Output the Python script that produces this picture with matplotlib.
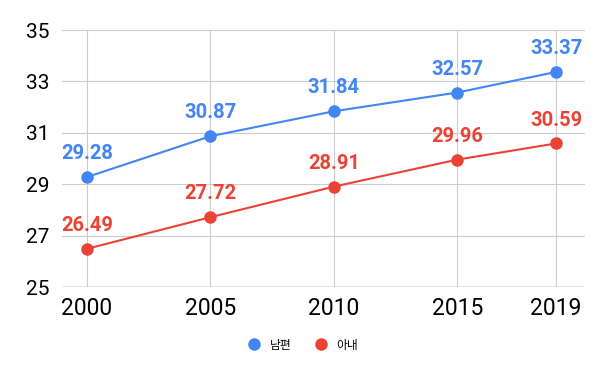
import matplotlib.pyplot as plt
from matplotlib.lines import Line2D

plt.rcParams['font.family'] = ['Roboto', 'Noto Sans CJK KR', 'DejaVu Sans']

years = [2000, 2005, 2010, 2015, 2019]
husband = [29.28, 30.87, 31.84, 32.57, 33.37]
wife = [26.49, 27.72, 28.91, 29.96, 30.59]
yticks = [25, 27, 29, 31, 33, 35]
names = ["남편", "아내"]

blue = "#4285F4"
red = "#EA4335"

fig = plt.figure(figsize=(6, 3.71), dpi=100)
ax = fig.add_axes([0.103, 0.226, 0.872, 0.693])

for vals, c in [(husband, blue), (wife, red)]:
	ax.plot(years, vals, color=c, lw=1.5, marker="o", ms=8, zorder=3)
	for x, v in zip(years, vals):
		ax.annotate(f"{v:.2f}", (x, v), xytext=(0, 10), textcoords="offset points",
			ha="center", va="bottom", color=c, fontsize=14.5, fontweight="bold")

ax.set_xlim(1998.99, 2020.17)
ax.set_ylim(25, 35)
ax.set_xticks(years)
ax.set_yticks(yticks)
ax.tick_params(axis="x", labelsize=16.5, length=0, pad=7)
ax.tick_params(axis="y", labelsize=15, length=0, pad=9)
ax.grid(True, color="#cccccc", lw=0.8)
ax.set_axisbelow(True)
for s in ax.spines.values():
	s.set_visible(False)
ax.axhline(25, color="#999999", lw=1, zorder=1)

handles = [Line2D([], [], ls="none", marker="o", ms=8, color=c) for c in (blue, red)]
fig.legend(handles, names, loc="center", bbox_to_anchor=(0.5, 0.07), ncol=2,
	frameon=False, fontsize=8.5, handletextpad=0.3, columnspacing=1.5)

fig.savefig("out.png")
